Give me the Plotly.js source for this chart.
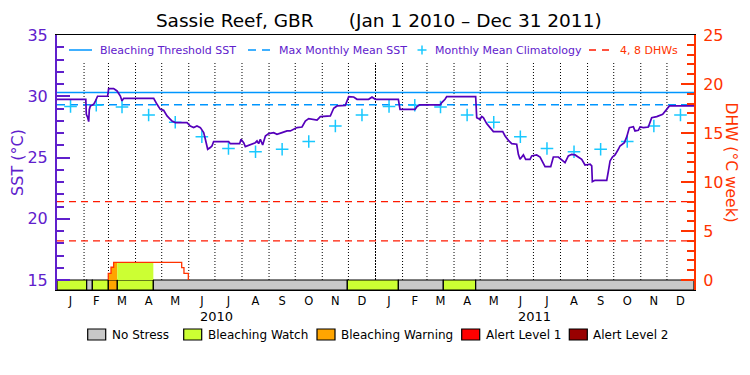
<!DOCTYPE html>
<html><head><meta charset="utf-8">
<script src="https://cdn.plot.ly/plotly-3.0.1.min.js"></script>
<style>html,body{margin:0;padding:0;background:#fff}#chart{width:750px;height:375px}</style>
</head><body><div id="chart"></div>
<script>
// ================= DATA =================
const monthLetters = ['J','F','M','A','M','J','J','A','S','O','N','D'];
const monthDays2010 = [31,28,31,30,31,30,31,31,30,31,30,31];
const monthDays2011 = [31,28,31,30,31,30,31,31,30,31,30,31];
const yearLabels = ['2010','2011'];

// SST (days since Jan 1 2010)
const sstDays = [0,33,33.6,35,36.3,37,38.2,42,44,45.8,46.5,58,59.2,64.9,68.8,72.6,74.5,76.4,110.8,114.6,118.4,122.2,126.1,131.8,135.6,149,152.8,156.6,160.4,164.3,168.1,170,172.7,175.7,177.6,179.5,196.7,198.6,209.3,210.9,213.9,215.8,219.6,223.5,227.3,229.2,231.1,233,235.7,238.8,242.6,248.3,252.1,257.9,263.6,267.4,271.2,275,280.8,284.6,288.4,294.1,298,301.8,313.2,317.1,320.9,330.4,332.3,334.3,340,343.8,357.2,361,364.8,
391.2,393.1,410.3,412.2,415.3,439,440.9,444.7,446.6,479.8,480.2,481,484.8,486.7,488.6,490.5,492.4,496.3,500.1,510.8,513.5,517.3,521.1,526.8,528.7,530.6,534.5,537.1,542.1,544,549.7,553.6,557.4,559.3,565.8,568.8,574.6,578.4,582.2,586,589.8,593.7,601.3,605.1,610.9,612.8,613.5,616.6,630,631.9,633.8,636.5,639.5,643.3,645.2,650.2,652.9,655.9,660.5,662.4,666.2,668.2,672,677.7,681.5,687.3,694.1,698.7,701.8,730];
const sstValues = [29.75,29.75,28.53,28.3,27.93,28.9,29.21,29.34,29.6,29.89,30.0,30.0,30.62,30.62,30.43,30.02,29.62,29.83,29.83,29.34,28.93,28.85,28.39,27.98,27.85,27.85,27.57,27.44,27.57,27.44,27.03,26.49,25.67,25.81,25.94,26.3,26.3,26.13,26.13,26.49,26.21,25.89,26.0,26.08,26.21,26.35,26.13,26.49,26.02,26.76,26.95,27.03,26.89,27.03,27.17,27.17,27.3,27.44,27.49,27.98,28.17,28.12,28.06,28.34,28.39,29.02,29.21,29.26,29.62,29.97,29.94,29.75,29.75,29.94,29.75,
29.75,28.93,28.93,29.13,29.29,29.29,29.48,29.75,29.97,29.97,29.07,28.25,28.12,28.35,28.25,27.98,27.77,27.44,27.11,27.11,26.76,26.4,26.13,26.08,25.26,24.85,25.21,24.85,24.85,25.13,25.21,25.04,24.58,24.25,24.25,25.04,25.04,24.77,24.58,25.13,25.26,25.21,24.85,24.39,24.45,24.31,23.03,23.14,23.14,23.9,24.72,25.04,25.21,25.67,25.94,26.21,26.68,27.44,27.52,27.17,27.22,27.49,27.44,27.49,28.25,28.34,28.53,28.93,29.21,29.21];

// Monthly mean climatology (Jan..Dec), same each year
const climatology = [29.17,29.26,29.12,28.47,27.88,26.70,25.73,25.47,25.67,26.30,27.57,28.47];
const maxMonthlyMean = 29.3;
const bleachingThreshold = 30.3;
const dhwLevels = [4, 8];

// Degree heating weeks (step values)
const dhwDays   = [0, 58.8, 61.9, 64.9, 142.9, 145.5, 150.5, 730];
const dhwValues = [0, 0.68, 1.3, 1.8, 1.26, 0.68, 0, 0];

// Bleaching stress status periods
const statusStart = [0, 34, 40.5, 58.8, 69.1, 110.4, 332.7, 391.2, 442.7, 479.8];
const statusEnd   = [34, 40.5, 58.8, 69.1, 110.4, 332.7, 391.2, 442.7, 479.8, 730];
const statusLevel = [1, 0, 1, 2, 1, 0, 1, 0, 1, 0];
const statusNames  = ['No Stress','Bleaching Watch','Bleaching Warning','Alert Level 1','Alert Level 2'];
const statusColors = ['#C8C8C8','#CCFF33','#FFA500','#FF0000','#990000'];

// top legend labels
const legendNames = ['Bleaching Threshold SST','Max Monthly Mean SST','Monthly Mean Climatology','4, 8 DHWs'];

// ================= BUILD =================
const FONT = 'DejaVu Sans, Liberation Sans, sans-serif';
const PURPLE = '#6020CC';
const SSTCOL = '#5500BB';
const ORANGE = '#FF3300';
const DHWRED = '#FF1A00';
const BLUE = '#0096FF';
const CYAN = '#18C8FF';

const monthLens = monthDays2010.concat(monthDays2011);
const bounds = [0];
monthLens.forEach(d => bounds.push(bounds[bounds.length-1] + d));
const totalDays = bounds[bounds.length-1];
const mids = monthLens.map((d,i) => bounds[i] + d/2);

const ML = 57, MR = 56, MT = 35, MB = 85, W = 750, H = 375;
const PW = W - ML - MR, PH = H - MT - MB;
const px2x = X => (X - ML) / PW;
const px2y = Y => (MT + PH - Y) / PH;

const sstRange = [15 - 10/12.25, 35];
const dhwRange = [-10/9.8, 25];

const traces = [];

// DHW filled areas coloured by status
function dhwAt(d){ let v = 0; for (let i=0;i<dhwDays.length;i++){ if (dhwDays[i] <= d) v = dhwValues[i]; } return v; }
statusStart.forEach((s,i) => {
  const e = statusEnd[i], lvl = statusLevel[i];
  if (lvl === 0) return;
  const fx = [s], fy = [dhwAt(s)];
  dhwDays.forEach((d,j) => { if (d > s && d < e) { fx.push(d, d); fy.push(fy[fy.length-1], dhwValues[j]); } });
  fx.push(e); fy.push(fy[fy.length-1]);
  if (Math.max(...fy) <= 0) return;
  traces.push({type:'scatter', mode:'lines', x:fx, y:fy, yaxis:'y2', fill:'tozeroy',
    fillcolor: statusColors[lvl], line:{width:0, color:statusColors[lvl]}, showlegend:false, hoverinfo:'skip'});
});

// status bar
traces.push({type:'bar', name:'Status', x: statusStart.map((s,i)=>(s+statusEnd[i])/2),
  width: statusStart.map((s,i)=>statusEnd[i]-s),
  y: statusStart.map(()=>15 - sstRange[0]), base: sstRange[0],
  marker:{color: statusLevel.map(l=>statusColors[l]), line:{color:'#000', width:1.2}},
  showlegend:false, hoverinfo:'skip'});

// reference lines
traces.push({type:'scatter', mode:'lines', name:legendNames[0], showlegend:false,
  x:[0,totalDays], y:[bleachingThreshold,bleachingThreshold], line:{color:BLUE, width:1.5}});
traces.push({type:'scatter', mode:'lines', name:legendNames[1], showlegend:false,
  x:[0,totalDays], y:[maxMonthlyMean,maxMonthlyMean], line:{color:BLUE, width:1.5, dash:'8px,5px'}});
const dhwLx = [], dhwLy = [];
dhwLevels.forEach(l => { dhwLx.push(0, totalDays, null); dhwLy.push(l, l, null); });
traces.push({type:'scatter', mode:'lines', name:legendNames[3], showlegend:false,
  x:dhwLx, y:dhwLy, yaxis:'y2', line:{color:DHWRED, width:1.3, dash:'7px,5px'}});
traces.push({type:'scatter', mode:'markers', name:legendNames[2], showlegend:false,
  x: mids, y: climatology.concat(climatology),
  marker:{symbol:'cross-thin', size:9, color:CYAN, line:{color:CYAN, width:1.5}}});

// DHW line
const lx = [], ly = [];
for (let i=1;i<dhwDays.length;i++){
  const p = dhwValues[i-1], c = dhwValues[i];
  if (p === 0 && c === 0) continue;
  lx.push(dhwDays[i], dhwDays[i]); ly.push(p, c);
}
traces.push({type:'scatter', mode:'lines', name:'DHW', x:lx, y:ly, yaxis:'y2', line:{color:ORANGE, width:1.3}, showlegend:false, hoverinfo:'skip'});

// SST line
traces.push({type:'scatter', mode:'lines', name:'SST', x:sstDays, y:sstValues, line:{color:SSTCOL, width:1.7}, showlegend:false});

// shapes: dotted month separators
const shapes = [];
const annotations = [];
for (let i=1;i<bounds.length-1;i++){
  shapes.push({type:'line', xref:'x', yref:'y', x0:bounds[i], x1:bounds[i], y0:15, y1:32.72, layer:'below',
    line:{color:'#000', width:1, dash: (i===12 ? '2px,1px' : '1px,2px')}});
}

// top legend (drawn manually to match the original layout)
const LY = 50;
const legSym = [69, 248, 415, 589];
const legTxt = [98, 277, 433, 618];
shapes.push({type:'line', xref:'paper', yref:'paper', x0:px2x(legSym[0]), x1:px2x(legSym[0]+23), y0:px2y(LY), y1:px2y(LY), line:{color:BLUE, width:1.5}});
shapes.push({type:'line', xref:'paper', yref:'paper', x0:px2x(legSym[1]), x1:px2x(legSym[1]+22), y0:px2y(LY), y1:px2y(LY), line:{color:BLUE, width:1.5, dash:'8px,6px'}});
shapes.push({type:'line', xref:'paper', yref:'paper', x0:px2x(legSym[2]+2.5), x1:px2x(legSym[2]+11.5), y0:px2y(LY), y1:px2y(LY), line:{color:CYAN, width:1.5}});
shapes.push({type:'line', xref:'paper', yref:'paper', x0:px2x(legSym[2]+7), x1:px2x(legSym[2]+7), y0:px2y(LY-4.5), y1:px2y(LY+4.5), line:{color:CYAN, width:1.5}});
shapes.push({type:'line', xref:'paper', yref:'paper', x0:px2x(legSym[3]), x1:px2x(legSym[3]+20), y0:px2y(LY), y1:px2y(LY), line:{color:DHWRED, width:1.3, dash:'7px,6px'}});
legendNames.forEach((n,i) => {
  annotations.push({xref:'paper', yref:'paper', x:px2x(legTxt[i]), y:px2y(LY), xanchor:'left', yanchor:'middle',
    text:n, showarrow:false, font:{family:FONT, size:11, color: i===3 ? ORANGE : PURPLE}});
});

// bottom status legend
const boxL = [87.7, 183.7, 317, 461.7, 569.3];
statusNames.forEach((n,i) => {
  shapes.push({type:'rect', xref:'paper', yref:'paper', x0:px2x(boxL[i]), x1:px2x(boxL[i]+18),
    y0:px2y(340), y1:px2y(329), fillcolor:statusColors[i], line:{color:'#000', width:1.2}});
  annotations.push({xref:'paper', yref:'paper', x:px2x(boxL[i]+22), y:px2y(334.5), xanchor:'left', yanchor:'middle',
    text:n, showarrow:false, font:{family:FONT, size:12, color:'#000'}});
});
yearLabels.forEach((t,i) => {
  annotations.push({xref:'x', yref:'paper', x:(bounds[i*12]+bounds[i*12+12])/2, y:px2y(316), xanchor:'center', yanchor:'middle',
    text:t, showarrow:false, font:{family:FONT, size:13, color:'#000'}});
});
annotations.push({xref:'paper', yref:'paper', x:px2x(731), y:px2y(162.5), xanchor:'center', yanchor:'middle',
  text:'DHW (°C week)', textangle:90, showarrow:false, font:{family:FONT, size:15.5, color:ORANGE}});

const minorSST = [], minorDHW = [];
for (let v=16; v<35; v++) if (v%5) minorSST.push(v);
for (let v=1; v<25; v++) if (v%5) minorDHW.push(v);

const layout = {
  width:W, height:H, margin:{l:ML, r:MR, t:MT, b:MB, pad:0},
  paper_bgcolor:'#fff', plot_bgcolor:'#fff',
  font:{family:FONT, color:'#000'},
  title:{text:'Sassie Reef, GBR\u00a0\u00a0\u00a0\u00a0\u00a0\u00a0(Jan 1 2010 \u2013 Dec 31 2011)',
    x:0.505, xref:'container', xanchor:'center', y:1-20.5/H, yref:'container', yanchor:'middle',
    font:{family:FONT, size:18.5, color:'#000'}},
  showlegend:false,
  bargap:0,
  xaxis:{range:[0,totalDays], tickmode:'array', tickvals:mids, ticktext:monthLetters.concat(monthLetters),
    ticks:'', showgrid:false, zeroline:false, showline:true, linecolor:'#000', linewidth:1.2, mirror:true,
    tickfont:{family:FONT, size:11.5, color:'#000'}},
  yaxis:{range:sstRange, tickmode:'array', tickvals:[15,20,25,30,35], ticks:'inside', ticklen:13, tickwidth:2, tickcolor:PURPLE,
    minor:{tickmode:'array', tickvals:minorSST, ticks:'inside', ticklen:7, tickwidth:2, tickcolor:PURPLE, showgrid:false},
    showgrid:false, zeroline:false, showline:true, linecolor:PURPLE, linewidth:2,
    tickfont:{family:FONT, size:16, color:PURPLE}, ticklabelstandoff:4,
    title:{text:'SST (°C)', font:{family:FONT, size:16, color:PURPLE}, standoff:0}},
  yaxis2:{range:dhwRange, overlaying:'y', side:'right', tickmode:'array', tickvals:[0,5,10,15,20,25],
    ticks:'inside', ticklen:13, tickwidth:2, tickcolor:ORANGE,
    minor:{tickmode:'array', tickvals:minorDHW, ticks:'inside', ticklen:7, tickwidth:2, tickcolor:ORANGE, showgrid:false},
    showgrid:false, zeroline:false, showline:true, linecolor:ORANGE, linewidth:2,
    tickfont:{family:FONT, size:16, color:ORANGE}, ticklabelstandoff:4},
  shapes:shapes, annotations:annotations
};

Plotly.newPlot('chart', traces, layout, {staticPlot:true, displayModeBar:false});
</script></body></html>
